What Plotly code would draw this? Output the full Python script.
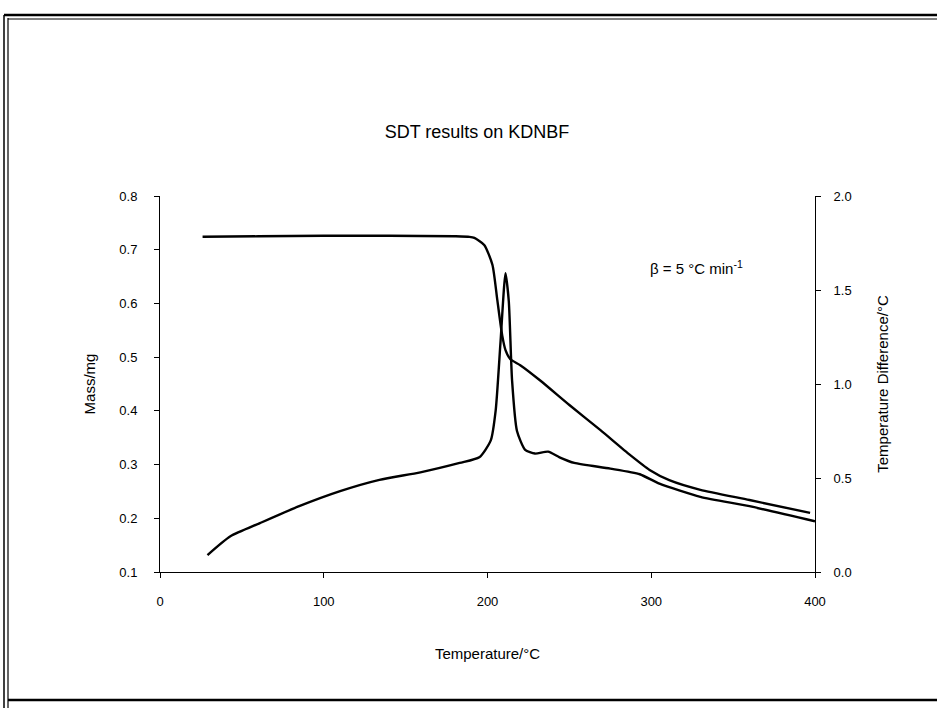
import plotly.graph_objects as go

# Mass (left axis) vs temperature
mass_T = [26, 60, 100, 140, 180, 189, 192, 198, 203, 206, 209, 211, 214, 220, 232, 250, 269, 287, 299, 311, 330, 360, 397]
mass_mg = [0.724, 0.725, 0.726, 0.726, 0.725, 0.724, 0.722, 0.709, 0.672, 0.606, 0.540, 0.513, 0.496, 0.485, 0.457, 0.411, 0.364, 0.318, 0.290, 0.271, 0.253, 0.234, 0.210]

# Temperature difference (right axis) vs temperature
dta_T = [29, 43, 61, 85, 110, 134, 159, 183, 195, 202, 205, 208, 211, 213, 215, 218, 223, 229, 237, 244, 253, 275, 293, 305, 330, 360, 400]
dta_dT = [0.09, 0.19, 0.26, 0.35, 0.43, 0.49, 0.53, 0.58, 0.61, 0.70, 0.86, 1.23, 1.59, 1.44, 1.02, 0.75, 0.65, 0.63, 0.64, 0.61, 0.58, 0.55, 0.52, 0.47, 0.40, 0.35, 0.27]

x_ticks = [0, 100, 200, 300, 400]
left_ticks = [0.1, 0.2, 0.3, 0.4, 0.5, 0.6, 0.7, 0.8]
right_ticks = [0.0, 0.5, 1.0, 1.5, 2.0]

FONT = "Liberation Sans, Arial, sans-serif"

fig = go.Figure()
fig.add_trace(go.Scatter(x=mass_T, y=mass_mg, mode="lines", line=dict(color="black", width=2.4, shape="spline", smoothing=0.6),
                         showlegend=False, hoverinfo="skip"))
fig.add_trace(go.Scatter(x=dta_T, y=dta_dT, mode="lines", yaxis="y2",
                         line=dict(color="black", width=2.4, shape="spline", smoothing=0.6),
                         showlegend=False, hoverinfo="skip"))

axis_common = dict(showgrid=False, zeroline=False, showline=True, linecolor="black", linewidth=1,
                   ticks="outside", ticklen=5, tickcolor="black",
                   tickfont=dict(family=FONT, size=13, color="black"))

fig.update_layout(
    width=938, height=709,
    margin=dict(l=160, r=123, t=196, b=137),
    paper_bgcolor="white", plot_bgcolor="white",
    title=dict(text="SDT results on KDNBF", x=477 / 938, xanchor="center", xref="container",
               y=1 - 132 / 709, yanchor="middle",
               font=dict(family=FONT, size=18, color="black")),
    xaxis=dict(range=[0, 400], tickvals=x_ticks, ticktext=[str(v) for v in x_ticks], ticklabelstandoff=12,
               title=dict(text="Temperature/°C", standoff=40, font=dict(family=FONT, size=15, color="black")),
               **axis_common),
    yaxis=dict(range=[0.1, 0.8], tickvals=left_ticks, ticktext=[f"{v:.1f}" for v in left_ticks], ticklabelstandoff=14,
               title=dict(text="Mass/mg", standoff=20, font=dict(family=FONT, size=15, color="black")),
               **axis_common),
    yaxis2=dict(range=[0, 2.0], tickvals=right_ticks, ticktext=[f"{v:.1f}" for v in right_ticks], ticklabelstandoff=10,
                overlaying="y", side="right",
                title=dict(text="Temperature Difference/°C", standoff=26, font=dict(family=FONT, size=15, color="black")),
                **axis_common),
    annotations=[dict(text="β = 5 °C min<sup>-1</sup>", x=298, y=1.62, xref="x", yref="y2",
                      xanchor="left", yanchor="middle", showarrow=False,
                      font=dict(family=FONT, size=15, color="black"))],
)

# outer frame of the scanned figure (paper coordinates extend beyond plot area)
def px_x(p):
    return (p - 160) / 655.0

def px_y(p):
    return (572 - p) / 376.0

frame = [
    (4, 15, 4, 708, 1.5), (8, 18, 8, 708, 1.2),
    (4, 15, 937, 15, 2.5), (8, 19, 937, 19, 1.0),
    (8, 700, 937, 700, 2.5),
]
for x0, y0, x1, y1, w in frame:
    fig.add_shape(type="line", xref="paper", yref="paper", x0=px_x(x0), y0=px_y(y0), x1=px_x(x1), y1=px_y(y1),
                  line=dict(color="black", width=w))

fig.write_html("out.html")
